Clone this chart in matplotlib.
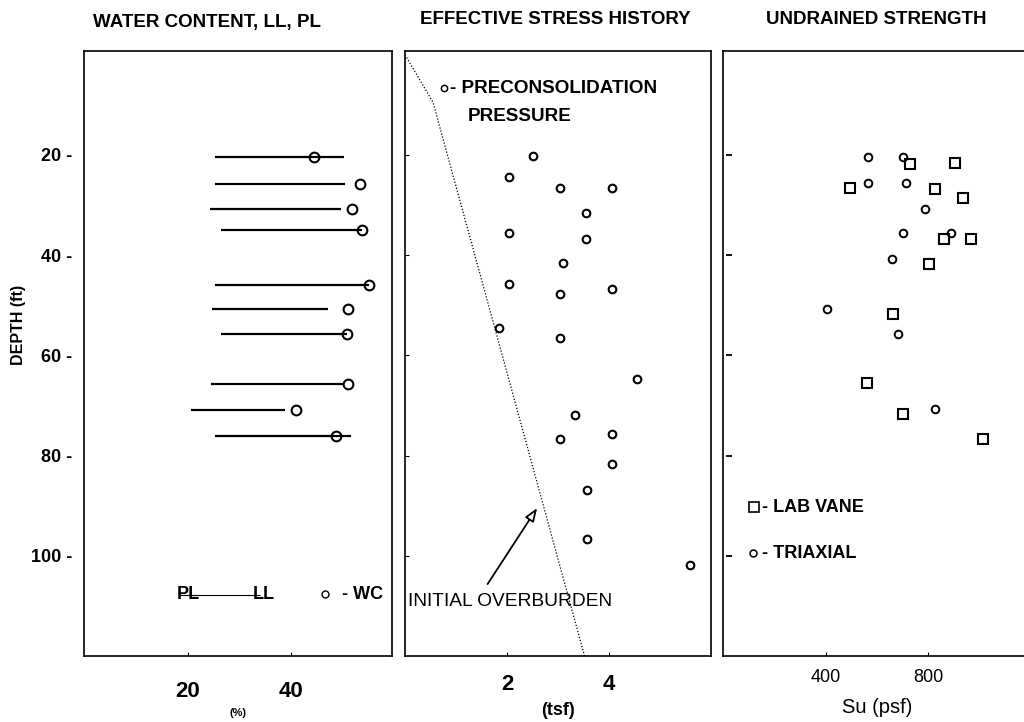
import numpy as np
import matplotlib
matplotlib.use("Agg")
import matplotlib.pyplot as plt
import matplotlib.transforms as mtransforms
from matplotlib import font_manager

plt.rcParams['font.family'] = ['Liberation Sans', 'DejaVu Sans']
_names = {f.name for f in font_manager.fontManager.ttflist}
narrow = 'Liberation Sans Narrow' if 'Liberation Sans Narrow' in _names else 'Liberation Sans'

# ---- Water content, liquid limit, plastic limit (%) ----
wc_depth = [20.5, 25.7, 30.8, 35.0, 45.9, 50.8, 55.8, 65.7, 70.9, 76.0]
pl = [25.4, 25.4, 24.3, 26.5, 25.4, 24.7, 26.5, 24.5, 20.6, 25.4]
ll = [50.2, 50.4, 49.6, 53.8, 55.1, 47.2, 50.9, 50.0, 38.8, 51.6]
wc = [44.5, 53.3, 51.7, 53.8, 55.1, 51.0, 50.9, 51.0, 41.0, 48.7]

# ---- Effective stress history (tsf) ----
pc_depth = [20.3, 24.4, 26.5, 26.5, 31.6, 35.5, 36.8, 41.6, 45.7, 46.7, 47.7,
            54.6, 56.6, 64.7, 71.8, 75.7, 76.6, 81.7, 86.8, 96.7, 101.8]
pc = [2.50, 2.03, 3.04, 4.05, 3.55, 2.03, 3.55, 3.09, 2.03, 4.05, 3.04,
      1.84, 3.04, 4.54, 3.33, 4.05, 3.04, 4.05, 3.56, 3.56, 5.58]
ob_depth = [0, 9.5, 120]
ob = [0.0, 0.55, 3.52]

# ---- Undrained strength (psf) ----
tx_depth = [20.5, 20.5, 25.5, 25.5, 30.8, 35.6, 35.6, 40.8, 50.8, 55.8, 70.7]
tx = [565, 701, 565, 712, 787, 703, 889, 657, 405, 683, 825]
vane_depth = [21.8, 21.7, 26.5, 26.7, 28.5, 36.7, 36.7, 41.8, 51.7, 65.5, 71.7, 76.7]
vane = [729, 905, 494, 827, 937, 862, 968, 803, 662, 562, 700, 1012]

depth_ticks = [20, 40, 60, 80, 100]

W, H = 1024, 722
fig = plt.figure(figsize=(W / 100, H / 100), dpi=100)

def px_axes(x0, x1, top=51, bottom=656):
    return fig.add_axes([x0 / W, 1 - bottom / H, (x1 - x0) / W, (bottom - top) / H])

ax1 = px_axes(84, 392)
ax2 = px_axes(405, 711)
ax3 = px_axes(723, 1031)

for ax in (ax1, ax2, ax3):
    ax.set_ylim(120, -0.75)
    for s in ax.spines.values():
        s.set_linewidth(1.2)
    ax.set_yticks(depth_ticks)

# ---- panel 1 ----
ax1.hlines(wc_depth, pl, ll, color='black', lw=1.6)
ax1.plot(wc, wc_depth, 'o', mfc='none', mec='black', mew=1.5, ms=7)
ax1.set_xlim(0, 59.5)
ax1.set_xticks([20, 40])
ax1.set_xticklabels(['20', '40'], fontsize=16, fontweight='bold')
ax1.tick_params(axis='x', direction='in', length=3, pad=18)
ax1.set_yticklabels([f'{d} -' for d in depth_ticks], fontsize=13, fontweight='bold')
ax1.tick_params(axis='y', length=0, pad=8.5)
ax1.set_xlabel('(%)', fontsize=8, fontweight='bold', labelpad=4)
fig.text(19 / W, 1 - 325 / H, 'DEPTH (ft)', rotation=90, fontsize=11.5,
         fontweight='bold', family=[narrow, 'Liberation Sans'], ha='center', va='center')
# legend
ax1.hlines(107.9, 18.5, 34.0, color='black', lw=0.8)
ax1.text(18.0, 107.7, 'PL', fontsize=13, fontweight='bold', va='center', ha='left')
ax1.text(32.6, 107.7, 'LL', fontsize=13, fontweight='bold', va='center', ha='left')
ax1.plot([46.5], [107.7], 'o', mfc='none', mec='black', mew=1, ms=5)
ax1.text(49.8, 107.7, '- WC', fontsize=13, fontweight='bold', va='center', ha='left')

# ---- panel 2 ----
ax2.plot(ob, ob_depth, color='black', lw=0.9, ls=(0, (1, 1.5)))
ax2.plot(pc, pc_depth, 'o', mfc='none', mec='black', mew=1.5, ms=5.5)
ax2.set_xlim(0, 6)
ax2.set_xticks([2, 4])
ax2.set_xticklabels(['2', '4'], fontsize=16, fontweight='bold')
ax2.tick_params(axis='x', direction='in', length=3, pad=13)
ax2.set_yticklabels([])
ax2.tick_params(axis='y', direction='in', length=3)
ax2.set_xlabel('(tsf)', fontsize=13, fontweight='bold', labelpad=5)
ax2.plot([0.77], [6.7], 'o', mfc='none', mec='black', mew=1.1, ms=4.5)
ax2.text(0.88, 6.7, '- PRECONSOLIDATION', fontsize=13.6, fontweight='bold',
         va='center', ha='left')
ax2.text(1.24, 12.3, 'PRESSURE', fontsize=13.6, fontweight='bold',
         va='center', ha='left')
ax2.annotate('', xy=(2.62, 90.0), xytext=(1.59, 106.1),
             arrowprops=dict(arrowstyle='-|>,head_length=0.8,head_width=0.3',
                             fc='white', ec='black', lw=1.3))
ax2.text(0.06, 109.2, 'INITIAL OVERBURDEN', fontsize=13.8, va='center', ha='left')

# ---- panel 3 ----
ax3.plot(vane, vane_depth, 's', mfc='none', mec='black', mew=1.5, ms=7.5)
ax3.plot(tx, tx_depth, 'o', mfc='none', mec='black', mew=1.4, ms=5.5)
ax3.set_xlim(0, 1200)
ax3.set_xticks([400, 800])
ax3.set_xticklabels(['400', '800'], fontsize=13)
ax3.tick_params(axis='x', direction='in', length=3, pad=9)
ax3.set_yticklabels([])
ax3.tick_params(axis='y', length=0)
# detached depth tick dashes just inside the frame
trans = mtransforms.blended_transform_factory(ax3.transAxes, ax3.transData)
ax3.plot([0.02] * len(depth_ticks), depth_ticks, '_', color='black', ms=4, mew=1.3,
         transform=trans)
ax3.set_xlabel('Su (psf)', fontsize=14.5, labelpad=9)
ax3.plot([120], [90.3], 's', mfc='none', mec='black', mew=1.2, ms=7)
ax3.text(150, 90.3, '- LAB VANE', fontsize=13, fontweight='bold', va='center', ha='left')
ax3.plot([115], [99.5], 'o', mfc='none', mec='black', mew=1.1, ms=5)
ax3.text(150, 99.5, '- TRIAXIAL', fontsize=13, fontweight='bold', va='center', ha='left')

# ---- panel titles ----
fig.text(93 / W, 1 - 22 / H, 'WATER CONTENT, LL, PL', fontsize=13.5, fontweight='bold',
         va='center', ha='left')
fig.text(420 / W, 1 - 20 / H, 'EFFECTIVE STRESS HISTORY', fontsize=13.5, fontweight='bold',
         va='center', ha='left')
fig.text(766 / W, 1 - 20 / H, 'UNDRAINED STRENGTH', fontsize=13.5, fontweight='bold',
         va='center', ha='left')

fig.savefig('out.png', dpi=100)
